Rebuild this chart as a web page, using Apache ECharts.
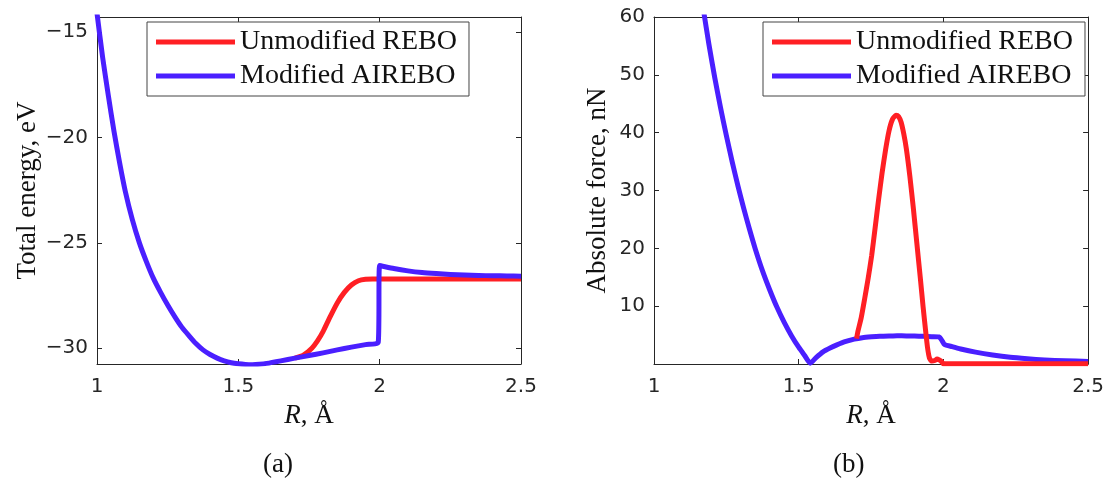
<!DOCTYPE html>
<html>
<head>
<meta charset="utf-8">
<script src="https://cdn.jsdelivr.net/npm/echarts@6/dist/echarts.min.js"></script>
<style>
  html, body { margin: 0; padding: 0; background: #fff; }
  #main { width: 1107px; height: 482px; }
</style>
</head>
<body>
<div id="main"></div>
<script>
// (a) total energy, eV
var energyBlueR = [1.00, 1.02, 1.04, 1.06, 1.08, 1.10, 1.125, 1.15, 1.175, 1.20, 1.225, 1.25, 1.275, 1.30,
  1.325, 1.35, 1.375, 1.40, 1.425, 1.45, 1.475, 1.50, 1.525, 1.55, 1.575, 1.60, 1.65, 1.70, 1.75,
  1.80, 1.85, 1.90, 1.95, 1.995, 2.00, 2.05, 2.10, 2.15, 2.20, 2.25, 2.30, 2.35, 2.40, 2.45, 2.50];
var energyBlue = [-14.1, -16.2, -18.0, -19.7, -21.2, -22.55, -23.9, -25.0, -25.9, -26.7, -27.35, -27.95, -28.5, -29.0,
  -29.4, -29.78, -30.08, -30.3, -30.47, -30.6, -30.69, -30.74, -30.77, -30.78, -30.76, -30.72, -30.6, -30.47, -30.35,
  -30.22, -30.08, -29.95, -29.83, -29.72, -26.08, -26.22, -26.33, -26.41, -26.46, -26.5, -26.53, -26.55, -26.56, -26.57, -26.58];
var energyRedR = [1.70, 1.73, 1.76, 1.78, 1.80, 1.825, 1.85, 1.875, 1.90, 1.925, 1.95, 1.975, 2.00, 2.50];
var energyRed = [-30.47, -30.33, -30.0, -29.65, -29.2, -28.5, -27.85, -27.35, -27.0, -26.8, -26.73, -26.72, -26.72, -26.72];

// (b) absolute force, nN
var forceBlueR = [1.17, 1.19, 1.21, 1.23, 1.25, 1.27, 1.29, 1.31, 1.33, 1.35, 1.375, 1.40, 1.425, 1.45, 1.475,
  1.50, 1.52, 1.54, 1.56, 1.584, 1.61, 1.632, 1.66, 1.692, 1.72, 1.752, 1.78, 1.812, 1.84, 1.872, 1.90, 1.931,
  1.96, 1.985, 1.997, 2.003, 2.03, 2.06, 2.111, 2.17, 2.231, 2.29, 2.35, 2.42, 2.50];
var forceBlue = [61.5, 55.2, 49.5, 44.3, 39.5, 35.0, 30.8, 26.9, 23.3, 19.9, 16.1, 12.8, 9.8, 7.2, 4.9,
  2.9, 1.5, 0.15, 1.1, 2.1, 2.8, 3.3, 3.85, 4.3, 4.55, 4.7, 4.8, 4.85, 4.87, 4.86, 4.83, 4.78,
  4.73, 4.68, 3.9, 3.4, 3.0, 2.6, 2.05, 1.55, 1.15, 0.9, 0.7, 0.55, 0.45];
var forceRedR = [1.70, 1.704, 1.716, 1.728, 1.74, 1.752, 1.764, 1.776, 1.788, 1.80, 1.812, 1.824, 1.836, 1.845,
  1.854, 1.863, 1.872, 1.884, 1.896, 1.908, 1.92, 1.93, 1.938, 1.945, 1.952, 1.96, 1.97, 1.978, 1.986, 1.992, 2.00, 2.50];
var forceRed = [4.4, 5.5, 8.0, 11.3, 14.8, 18.7, 23.5, 28.4, 33.0, 37.0, 40.3, 42.3, 43.0, 42.8,
  41.8, 39.8, 37.2, 32.5, 27.0, 21.0, 15.0, 9.8, 6.0, 2.9, 1.0, 0.5, 0.6, 0.85, 0.7, 0.5, 0.05, 0.05];

var rTicks = [1, 1.5, 2, 2.5];
var energyTicks = [-30, -25, -20, -15];
var forceTicks = [10, 20, 30, 40, 50, 60];

var seriesNames = ['Unmodified REBO', 'Modified AIREBO'];
var RED = '#ff1f24';
var BLUE = '#4a1fff';
var AX = '#262626';

function pairs(xs, ys) {
  var out = [];
  for (var i = 0; i < xs.length; i++) out.push([xs[i], ys[i]]);
  return out;
}

function fmtTick(v) {
  return String(v).replace('-', '\u2212');
}

var nameFont = { fontFamily: 'Liberation Serif', fontSize: 27, color: '#111' };

function xAx(grid, top) {
  return {
    type: 'value', gridIndex: grid, position: top ? 'top' : 'bottom',
    min: 1, max: 2.5, interval: 0.5,
    axisLine: { show: true, onZero: false, lineStyle: { color: AX, width: 1 } },
    axisTick: { show: true, inside: true, length: 5, lineStyle: { color: AX } },
    axisLabel: { show: !top, margin: 13, fontFamily: 'DejaVu Sans', fontSize: 20, color: AX,
      customValues: rTicks },
    splitLine: { show: false },
    name: top ? '' : '{i|R}, Å', nameLocation: 'middle', nameGap: 38,
    nameTextStyle: { fontFamily: 'Liberation Serif', fontSize: 27, color: '#111',
      rich: { i: { fontFamily: 'Liberation Serif', fontStyle: 'italic', fontSize: 27, color: '#111' } } }
  };
}

function yAx(grid, right, cfg) {
  var ax = {
    type: 'value', gridIndex: grid, position: right ? 'right' : 'left',
    min: cfg.min, max: cfg.max,
    axisLine: { show: true, onZero: false, lineStyle: { color: AX, width: 1 } },
    axisTick: { show: true, inside: true, length: 5, lineStyle: { color: AX }, customValues: cfg.ticks },
    axisLabel: { show: !right, margin: 9, fontFamily: 'DejaVu Sans', fontSize: 20, color: AX,
      customValues: cfg.ticks, formatter: fmtTick },
    splitLine: { show: false }
  };
  if (!right) {
    ax.name = cfg.name;
    ax.nameLocation = 'middle';
    ax.nameGap = cfg.gap;
    ax.nameTextStyle = nameFont;
  }
  return ax;
}

function line(name, data, color, xi, yi, z) {
  return {
    name: name, type: 'line', data: data, xAxisIndex: xi, yAxisIndex: yi,
    symbol: 'none', smooth: 0.2, z: z,
    lineStyle: { color: color, width: 5, join: 'round' },
    itemStyle: { color: color }
  };
}

function legendAt(left) {
  return {
    data: seriesNames, left: left, top: 22, orient: 'vertical',
    backgroundColor: '#fff', borderColor: '#444', borderWidth: 1,
    padding: [5, 12, 5, 9], itemGap: 4, itemWidth: 79, itemHeight: 5, icon: 'rect',
    selectedMode: false,
    textStyle: { fontFamily: 'Liberation Serif', fontSize: 28, color: '#111', lineHeight: 30 }
  };
}

var energyCfg = { min: -30.75, max: -14.28, ticks: energyTicks, name: 'Total energy, eV', gap: 54 };
var forceCfg = { min: 0, max: 60, ticks: forceTicks, name: 'Absolute force, nN', gap: 43 };

var chart = echarts.init(document.getElementById('main'), null, { renderer: 'canvas' });
var option = {
  backgroundColor: '#fff',
  animation: false,
  grid: [
    { left: 97, top: 17, width: 424, height: 347 },
    { left: 654, top: 17, width: 438, height: 347 }
  ],
  legend: [legendAt(147), legendAt(763)],
  xAxis: [xAx(0, false), xAx(0, true), xAx(1, false), xAx(1, true)],
  yAxis: [yAx(0, false, energyCfg), yAx(0, true, energyCfg), yAx(1, false, forceCfg), yAx(1, true, forceCfg)],
  series: [
    line(seriesNames[0], pairs(energyRedR, energyRed), RED, 0, 0, 2),
    line(seriesNames[1], pairs(energyBlueR, energyBlue), BLUE, 0, 0, 3),
    line(seriesNames[1], pairs(forceBlueR, forceBlue), BLUE, 2, 2, 2),
    line(seriesNames[0], pairs(forceRedR, forceRed), RED, 2, 2, 3)
  ],
  graphic: [
    { type: 'text', left: 263, top: 451, style: { text: '(a)', font: '27px "Liberation Serif"', fill: '#111' } },
    { type: 'text', left: 833, top: 451, style: { text: '(b)', font: '27px "Liberation Serif"', fill: '#111' } }
  ]
};
chart.setOption(option);
</script>
</body>
</html>
